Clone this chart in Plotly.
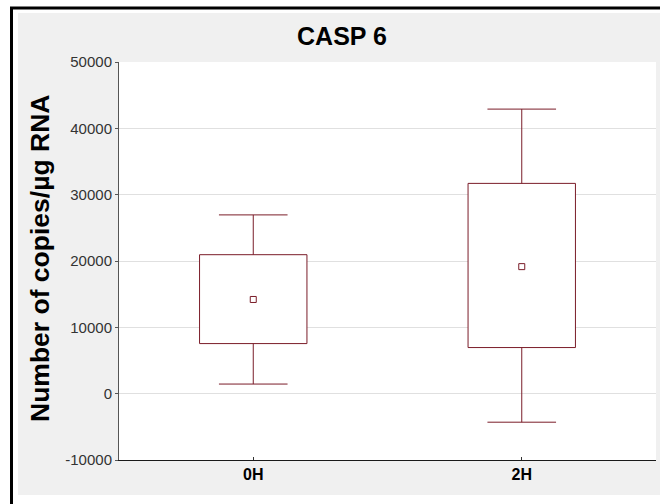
import plotly.graph_objects as go

# ---- data ----
categories = ["0H", "2H"]
means = [14200, 19150]
box_low = [7550, 6950]
box_high = [20950, 31700]
whisker_low = [1450, -4300]
whisker_high = [26950, 42900]
y_ticks = [-10000, 0, 10000, 20000, 30000, 40000, 50000]
y_tick_labels = ["-10000", "0", "10000", "20000", "30000", "40000", "50000"]
y_range = [-10000, 50000]
chart_title = "CASP 6"
y_title = "Number of copies/µg RNA"

# ---- styling / layout geometry ----
W, H = 660, 504
L, R, T, B = 119, 656, 62, 460
PW, PH = R - L, B - T
BOX_COLOR = "#7a1c28"
FONT = "Arial, Liberation Sans, sans-serif"
BOX_WIDTH = 0.4
CAP_PX = 49


def px2x(px):
    return (px - L) / PW


def py2y(py):
    return (B - py) / PH


fig = go.Figure()

# whisker stems (from box edge to whisker end), at the category positions
stem_x, stem_y = [], []
for c, lo, hi, wl, wh in zip(categories, box_low, box_high, whisker_low, whisker_high):
    stem_x += [c, c, None, c, c, None]
    stem_y += [hi, wh, None, lo, wl, None]
fig.add_trace(go.Scatter(
    x=stem_x, y=stem_y, mode="lines",
    line=dict(color=BOX_COLOR, width=1),
    showlegend=False, hoverinfo="skip",
))

# box (mean +/- spread), drawn as a floating bar
fig.add_trace(go.Bar(
    x=categories,
    base=box_low,
    y=[h - l for h, l in zip(box_high, box_low)],
    width=BOX_WIDTH,
    marker=dict(color="white", line=dict(color=BOX_COLOR, width=1)),
    showlegend=False, hoverinfo="skip",
))

# whisker caps
fig.add_trace(go.Scatter(
    x=categories + categories,
    y=whisker_high + whisker_low,
    mode="markers",
    marker=dict(symbol="line-ew", size=CAP_PX, color=BOX_COLOR,
                line=dict(color=BOX_COLOR, width=1)),
    showlegend=False, hoverinfo="skip",
))

# mean markers
fig.add_trace(go.Scatter(
    x=categories,
    y=means,
    mode="markers",
    marker=dict(symbol="square-open", size=6, color=BOX_COLOR,
                line=dict(color=BOX_COLOR, width=1)),
    showlegend=False,
    hoverinfo="skip",
))

shapes = [
    # white strips outside the grey panel
    dict(type="rect", xref="paper", yref="paper", layer="below",
         x0=px2x(-5), x1=px2x(18), y0=py2y(520), y1=py2y(-5),
         fillcolor="white", line=dict(width=0)),
    dict(type="rect", xref="paper", yref="paper", layer="below",
         x0=px2x(-5), x1=px2x(680), y0=py2y(13), y1=py2y(-5),
         fillcolor="white", line=dict(width=0)),
    dict(type="rect", xref="paper", yref="paper", layer="below",
         x0=px2x(-5), x1=px2x(680), y0=py2y(520), y1=py2y(495),
         fillcolor="white", line=dict(width=0)),
    # black outer frame (left and top)
    dict(type="line", xref="paper", yref="paper", layer="below",
         x0=px2x(11.5), x1=px2x(11.5), y0=py2y(8), y1=py2y(520),
         line=dict(color="black", width=3)),
    dict(type="line", xref="paper", yref="paper", layer="below",
         x0=px2x(10), x1=px2x(680), y0=py2y(8), y1=py2y(8),
         line=dict(color="black", width=3)),
]

fig.update_layout(
    width=W, height=H,
    margin=dict(l=L, r=W - R, t=T, b=H - B),
    paper_bgcolor="#f0f0f0",
    plot_bgcolor="white",
    shapes=shapes,
    barmode="overlay",
    hovermode=False,
    font=dict(family=FONT, color="#333333", size=15),
    title=dict(text="<b>" + chart_title + "</b>", x=342 / W, xref="container",
               xanchor="center", y=1 - 36 / H, yref="container", yanchor="middle",
               font=dict(family=FONT, size=25, color="black")),
    xaxis=dict(
        type="category", range=[-0.5, 1.5],
        showgrid=False, zeroline=False,
        showline=True, linecolor="#1a1a1a", linewidth=1,
        ticks="inside", ticklen=3, tickcolor="#333333",
        tickfont=dict(family=FONT, size=16, color="black"),
        tickvals=categories,
        ticktext=["<b>" + c + "</b>" for c in categories],
    ),
    xaxis2=dict(
        overlaying="x", side="top", anchor="y", range=[0, 1],
        showgrid=False, zeroline=False, showticklabels=False,
        showline=True, linecolor="#777777", linewidth=2, ticks="",
    ),
    yaxis=dict(
        range=y_range, tickvals=y_ticks, ticktext=y_tick_labels,
        showgrid=True, gridcolor="#e0e0e0", gridwidth=1,
        zeroline=False,
        showline=True, linecolor="#555555", linewidth=1,
        ticks="outside", ticklen=3, tickcolor="#555555",
        tickfont=dict(family=FONT, size=15, color="#333333"),
    ),
    yaxis2=dict(
        overlaying="y", side="right", anchor="x", range=y_range,
        tickvals=y_ticks, showticklabels=False, showgrid=False, zeroline=False,
        showline=True, linecolor="#444444", linewidth=2,
        ticks="inside", ticklen=3, tickcolor="#444444",
    ),
    annotations=[dict(
        text="<b>" + y_title + "</b>", textangle=-90,
        xref="paper", yref="paper", x=px2x(40), y=py2y(259),
        xanchor="center", yanchor="middle", showarrow=False,
        font=dict(family=FONT, size=26.5, color="black"),
    )],
)

fig.write_html(
    "out.html",
    config={"displayModeBar": False, "staticPlot": True},
    post_script="document.body.style.margin='0';document.body.style.overflow='hidden';",
)
